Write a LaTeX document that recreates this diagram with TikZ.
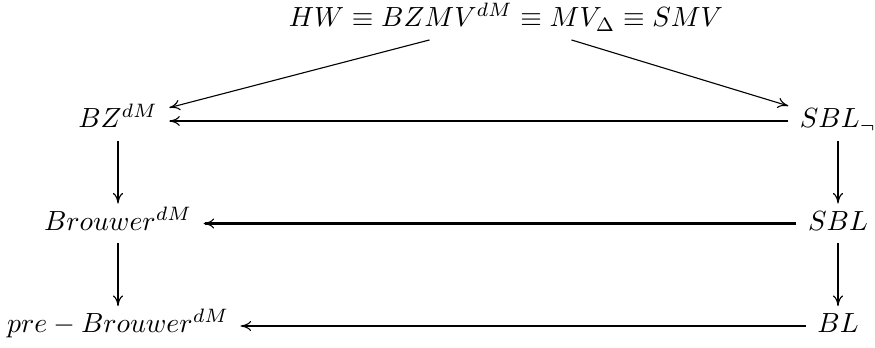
\documentclass[tikz,border=0pt]{standalone}
\usepackage{amsmath, amssymb}
\usetikzlibrary{arrows.meta}
\tikzstyle{obj} = [inner xsep=4pt, inner ysep=2.5pt, text height=7pt, text depth=2pt]
\tikzstyle{thinarrow} = [line width=0.4pt, -{To[length=3.8pt,width=3.8pt,line width=0.4pt]}]
\tikzstyle{arrow} = [line width=0.6pt, -{To[length=3.8pt,width=3.6pt,line width=0.4pt]}]
\tikzstyle{boldarrow} = [line width=0.9pt, -{To[length=3.8pt,width=3.6pt,line width=0.4pt]}]

\begin{document}
\begin{tikzpicture}[x=0.361pt, y=-0.361pt, node distance=37pt]
      \useasboundingbox (0,0) rectangle (875,347);
      \node (top)[obj] at (506,20) {$HW \equiv BZMV^{dM} \equiv MV_{\Delta} \equiv SMV$};
      \node (bz)[obj] at (118,121) {$BZ^{dM}$};
      \node (sbln)[obj] at (838,121) {$SBL_{\neg}$};
      \node (brouwer)[obj, below of=bz] {$Brouwer^{dM}$};
      \node (sbl)[obj, below of=sbln] {$SBL$};
      \node (pre)[obj, below of=brouwer] {$pre-Brouwer^{dM}$};
      \node (bl)[obj, below of=sbl] {$BL$};
      \draw [thinarrow](top)--(bz);
      \draw [thinarrow](top)--(sbln);
      \draw [boldarrow](sbln)--(bz);
      \draw [boldarrow](sbl)--(brouwer);
      \draw [boldarrow](bl)--(pre);
      \draw [arrow](bz)--(brouwer);
      \draw [arrow](brouwer)--(pre);
      \draw [boldarrow](sbln)--(sbl);
      \draw [boldarrow](sbl)--(bl);
    \end{tikzpicture}
\end{document}
